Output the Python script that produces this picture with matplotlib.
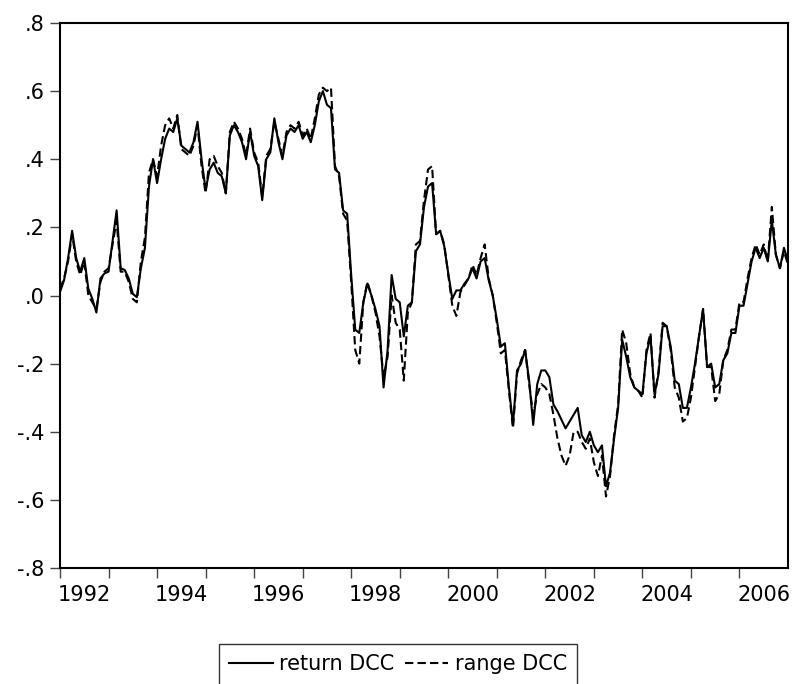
import numpy as np
import matplotlib
matplotlib.use('Agg')
import matplotlib.pyplot as plt

# monthly readings, Jan 1992 .. Jan 2007
return_dcc = [
    0.01, 0.045, 0.11, 0.19, 0.11, 0.07, 0.11, 0.02, -0.01, -0.05, 0.05, 0.065,      # 1992
    0.07, 0.16, 0.25, 0.08, 0.075, 0.05, 0.005, -0.005, 0.08, 0.14, 0.32, 0.40,      # 1993
    0.33, 0.40, 0.46, 0.49, 0.48, 0.52, 0.44, 0.43, 0.42, 0.45, 0.51, 0.40,          # 1994
    0.31, 0.37, 0.39, 0.36, 0.35, 0.30, 0.47, 0.50, 0.48, 0.45, 0.40, 0.48,          # 1995
    0.41, 0.38, 0.28, 0.40, 0.42, 0.52, 0.45, 0.40, 0.47, 0.49, 0.48, 0.50,          # 1996
    0.46, 0.48, 0.45, 0.50, 0.57, 0.60, 0.56, 0.55, 0.37, 0.36, 0.25, 0.24,          # 1997
    0.06, -0.10, -0.11, -0.02, 0.035, 0.0, -0.04, -0.09, -0.27, -0.16, 0.06, -0.01,  # 1998
    -0.02, -0.12, -0.03, -0.02, 0.13, 0.15, 0.26, 0.32, 0.33, 0.18, 0.19, 0.145,     # 1999
    0.065, -0.01, 0.015, 0.015, 0.035, 0.05, 0.08, 0.05, 0.10, 0.11, 0.045, 0.0,     # 2000
    -0.07, -0.15, -0.14, -0.27, -0.38, -0.22, -0.20, -0.16, -0.25, -0.38, -0.26, -0.22,  # 2001
    -0.22, -0.24, -0.32, -0.34, -0.365, -0.39, -0.37, -0.35, -0.33, -0.41, -0.43, -0.40, # 2002
    -0.44, -0.46, -0.44, -0.56, -0.52, -0.42, -0.33, -0.13, -0.18, -0.24, -0.27, -0.28,  # 2003
    -0.29, -0.17, -0.12, -0.29, -0.23, -0.09, -0.09, -0.15, -0.25, -0.26, -0.33, -0.33,  # 2004
    -0.27, -0.20, -0.12, -0.04, -0.21, -0.20, -0.27, -0.26, -0.19, -0.17, -0.11, -0.11,  # 2005
    -0.03, -0.03, 0.035, 0.10, 0.14, 0.11, 0.14, 0.10, 0.22, 0.12, 0.08, 0.14,       # 2006
    0.10,
]

range_dcc = [
    0.02, 0.05, 0.10, 0.18, 0.10, 0.06, 0.10, 0.0, -0.02, -0.04, 0.04, 0.07,
    0.08, 0.15, 0.22, 0.07, 0.07, 0.04, -0.01, -0.02, 0.10, 0.17, 0.36, 0.40,
    0.35, 0.44, 0.50, 0.52, 0.49, 0.53, 0.43, 0.42, 0.41, 0.44, 0.50, 0.38,
    0.30, 0.40, 0.41, 0.38, 0.36, 0.30, 0.48, 0.51, 0.49, 0.46, 0.41, 0.49,
    0.42, 0.39, 0.29, 0.41, 0.43, 0.51, 0.46, 0.41, 0.48, 0.50, 0.49, 0.51,
    0.47, 0.49, 0.46, 0.52, 0.59, 0.61, 0.60, 0.61, 0.38, 0.35, 0.24, 0.22,
    0.04, -0.16, -0.20, -0.02, 0.04, 0.0, -0.05, -0.12, -0.24, -0.18, 0.0, -0.08,
    -0.10, -0.25, -0.05, -0.02, 0.15, 0.16, 0.28, 0.37, 0.38, 0.18, 0.19, 0.15,
    0.06, -0.03, -0.06, 0.01, 0.03, 0.05, 0.09, 0.06, 0.11, 0.15, 0.05, 0.0,
    -0.08, -0.17, -0.16, -0.28, -0.39, -0.23, -0.19, -0.16, -0.26, -0.35, -0.29, -0.26,
    -0.27, -0.29, -0.35, -0.42, -0.47, -0.50, -0.47, -0.40, -0.40, -0.43, -0.45, -0.42,
    -0.49, -0.53, -0.47, -0.59, -0.53, -0.41, -0.32, -0.10, -0.14, -0.23, -0.27, -0.28,
    -0.30, -0.16, -0.11, -0.30, -0.22, -0.08, -0.09, -0.16, -0.27, -0.30, -0.37, -0.36,
    -0.30, -0.21, -0.12, -0.04, -0.21, -0.21, -0.31, -0.29, -0.19, -0.16, -0.10, -0.10,
    -0.02, -0.02, 0.05, 0.11, 0.15, 0.12, 0.15, 0.10, 0.26, 0.12, 0.08, 0.13,
    0.09,
]

start_year = 1992
yticks = [0.8, 0.6, 0.4, 0.2, 0.0, -0.2, -0.4, -0.6, -0.8]
ytick_labels = ['.8', '.6', '.4', '.2', '.0', '-.2', '-.4', '-.6', '-.8']
year_labels = ['1992', '1994', '1996', '1998', '2000', '2002', '2004', '2006']

t = start_year + np.arange(len(return_dcc)) / 12.0

plt.rcParams['font.family'] = 'DejaVu Sans'
fig = plt.figure(figsize=(7.95, 6.84), dpi=100)
ax = fig.add_axes([60/795, 1 - 568/684, (788-60)/795, (568-23)/684])

ax.plot(t, return_dcc, color='black', lw=1.5, label='return DCC')
ax.plot(t, range_dcc, color='black', lw=1.5, dashes=(4, 2), label='range DCC')

ax.set_xlim(1992, 2007)
ax.set_ylim(-0.8, 0.8)

ax.set_yticks(yticks)
ax.set_yticklabels(ytick_labels, fontsize=15)

# ticks at each year start, labels centred on every other year
ax.set_xticks(np.arange(1992, 2007))
ax.set_xticklabels([])
ax.set_xticks([int(y) + 0.5 for y in year_labels], minor=True)
ax.set_xticklabels(year_labels, minor=True, fontsize=15)
ax.tick_params(axis='x', which='minor', length=0, pad=12)
ax.tick_params(axis='both', which='major', length=7, width=1, direction='out', color='#444444')
ax.tick_params(axis='y', pad=4)

for s in ax.spines.values():
    s.set_linewidth(1.5)
    s.set_color('black')

leg = fig.legend(loc='upper center', bbox_to_anchor=(0.5006, 1 - 644/684), ncol=2,
                 fontsize=15, frameon=True, fancybox=False, edgecolor='black',
                 handlelength=2.1, handletextpad=0.3, columnspacing=0.5,
                 borderpad=0.5, borderaxespad=0)
leg.get_frame().set_linewidth(1.0)

fig.savefig('out.png', dpi=100)
